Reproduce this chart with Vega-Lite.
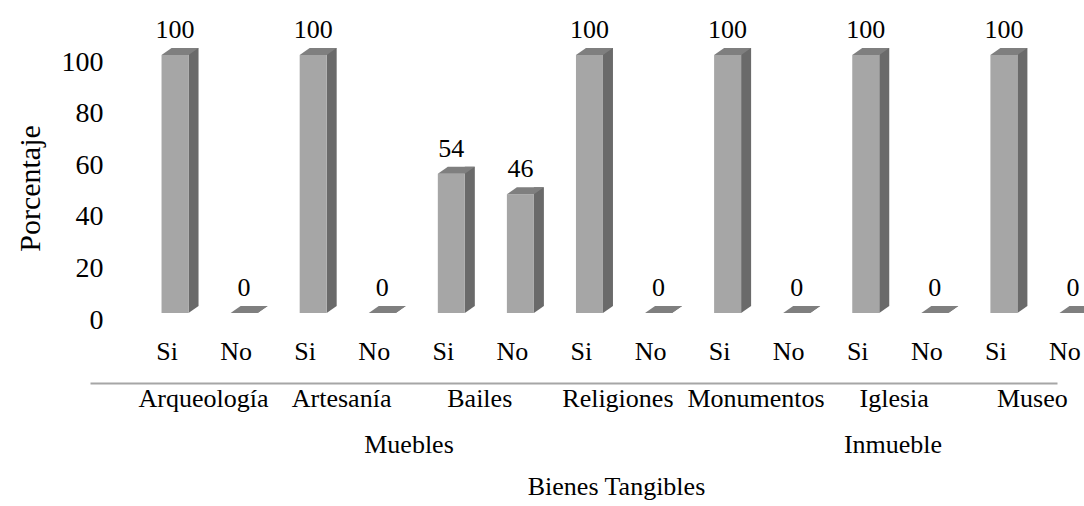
{
  "$schema": "https://vega.github.io/schema/vega-lite/v6.json",
  "autosize": {"type": "none"},
  "width": 943.5,
  "height": 258,
  "padding": {"left": 140.5, "top": 55, "right": 0, "bottom": 193},
  "background": "white",
  "config": {
    "view": {"stroke": null},
    "font": "Times New Roman",
    "text": {"font": "Times New Roman"},
    "style": {"guide-label": {"font": "Times New Roman"}, "guide-title": {"font": "Times New Roman"}},
    "axis": {
      "labelColor": "#000", "titleColor": "#000",
      "labelFont": "Times New Roman", "titleFont": "Times New Roman",
      "titleFontWeight": "normal", "grid": false, "ticks": false, "tickSize": 0,
      "domain": false, "labelOverlap": false, "labelBound": false, "labelFlush": false
    }
  },
  "data": {"values": [
    {"grupo": "Muebles", "categoria": "Arqueología", "respuesta": "Si", "clave": "Arqueología Si", "valor": 100},
    {"grupo": "Muebles", "categoria": "Arqueología", "respuesta": "No", "clave": "Arqueología No", "valor": 0},
    {"grupo": "Muebles", "categoria": "Artesanía", "respuesta": "Si", "clave": "Artesanía Si", "valor": 100},
    {"grupo": "Muebles", "categoria": "Artesanía", "respuesta": "No", "clave": "Artesanía No", "valor": 0},
    {"grupo": "Muebles", "categoria": "Bailes", "respuesta": "Si", "clave": "Bailes Si", "valor": 54},
    {"grupo": "Muebles", "categoria": "Bailes", "respuesta": "No", "clave": "Bailes No", "valor": 46},
    {"grupo": "Muebles", "categoria": "Religiones", "respuesta": "Si", "clave": "Religiones Si", "valor": 100},
    {"grupo": "Muebles", "categoria": "Religiones", "respuesta": "No", "clave": "Religiones No", "valor": 0},
    {"grupo": "Inmueble", "categoria": "Monumentos", "respuesta": "Si", "clave": "Monumentos Si", "valor": 100},
    {"grupo": "Inmueble", "categoria": "Monumentos", "respuesta": "No", "clave": "Monumentos No", "valor": 0},
    {"grupo": "Inmueble", "categoria": "Iglesia", "respuesta": "Si", "clave": "Iglesia Si", "valor": 100},
    {"grupo": "Inmueble", "categoria": "Iglesia", "respuesta": "No", "clave": "Iglesia No", "valor": 0},
    {"grupo": "Inmueble", "categoria": "Museo", "respuesta": "Si", "clave": "Museo Si", "valor": 100},
    {"grupo": "Inmueble", "categoria": "Museo", "respuesta": "No", "clave": "Museo No", "valor": 0}
  ]},
  "layer": [
    {
      "encoding": {
        "x": {
          "field": "clave", "type": "nominal", "sort": null,
          "scale": {"type": "band", "range": [0, 967], "paddingInner": 0, "paddingOuter": 0},
          "axis": {
            "orient": "bottom", "title": null, "labelAngle": 0,
            "labelExpr": "split(datum.value, ' ')[1]",
            "labelFont": "Times New Roman",
            "labelFontSize": 26, "labelBaseline": "alphabetic",
            "labelPadding": 46.5, "labelOffset": -8
          }
        }
      },
      "layer": [
        {
          "mark": {"type": "bar", "size": 10, "xOffset": 18.5, "yOffset": -7, "y2Offset": -7, "color": "#6a6a6a"},
          "encoding": {
            "y": {
              "field": "valor", "type": "quantitative",
              "scale": {"domain": [0, 100], "nice": false},
              "axis": {
                "values": [0, 20, 40, 60, 80, 100],
                "title": "Porcentaje", "titleFontSize": 30, "titleFont": "Times New Roman",
                "labelFont": "Times New Roman",
                "labelFontSize": 28, "labelPadding": 37.5, "labelOffset": 7,
                "titlePadding": 16, "titleY": 133
              }
            },
            "y2": {"datum": 0}
          }
        },
        {
          "mark": {"type": "point", "shape": "M13.5,-7 L13.5,0 L23.5,-7 Z", "size": 4, "filled": true, "color": "#6a6a6a", "opacity": 1, "strokeWidth": 0},
          "encoding": {"y": {"datum": 0, "type": "quantitative"}}
        },
        {
          "mark": {"type": "bar", "size": 27, "color": "#a6a6a6"},
          "encoding": {
            "y": {"field": "valor", "type": "quantitative"},
            "y2": {"datum": 0}
          }
        },
        {
          "mark": {"type": "point", "shape": "M-13.5,0 L13.5,0 L23.5,-7 L-3.5,-7 Z", "size": 4, "filled": true, "color": "#7f7f7f", "opacity": 1, "strokeWidth": 0},
          "encoding": {"y": {"field": "valor", "type": "quantitative"}}
        },
        {
          "mark": {"type": "text", "dy": -17, "baseline": "alphabetic", "fontSize": 26, "font": "Times New Roman", "color": "#000"},
          "encoding": {
            "y": {"field": "valor", "type": "quantitative"},
            "text": {"field": "valor", "type": "quantitative"}
          }
        }
      ]
    },
    {
      "mark": {"type": "point", "opacity": 0},
      "encoding": {
        "x": {
          "field": "categoria", "type": "nominal", "sort": null,
          "scale": {"type": "band", "range": [-50.5, 916.5], "paddingInner": 0, "paddingOuter": 0},
          "axis": {
            "orient": "bottom", "title": null, "labelAngle": 0,
            "domain": true, "domainColor": "#a6a6a6", "domainWidth": 2, "offset": 70,
            "labelFont": "Times New Roman",
            "labelFontSize": 26, "labelBaseline": "alphabetic", "labelPadding": 23, "labelOffset": 44.4
          }
        }
      }
    },
    {
      "mark": {"type": "point", "opacity": 0},
      "encoding": {
        "x": {
          "field": "grupo", "type": "nominal", "sort": null,
          "scale": {"type": "band", "range": [26.5, 994.5], "paddingInner": 0, "paddingOuter": 0},
          "axis": {
            "orient": "bottom", "labelAngle": 0,
            "labelFont": "Times New Roman",
            "labelFontSize": 26, "labelBaseline": "alphabetic", "labelPadding": 139,
            "title": "Bienes Tangibles", "titleFont": "Times New Roman", "titleFontSize": 26, "titleX": 475.5, "titleY": 181,
            "titleBaseline": "alphabetic", "titleAlign": "center"
          }
        }
      }
    }
  ],
  "resolve": {"scale": {"x": "independent"}, "axis": {"x": "independent"}}
}
